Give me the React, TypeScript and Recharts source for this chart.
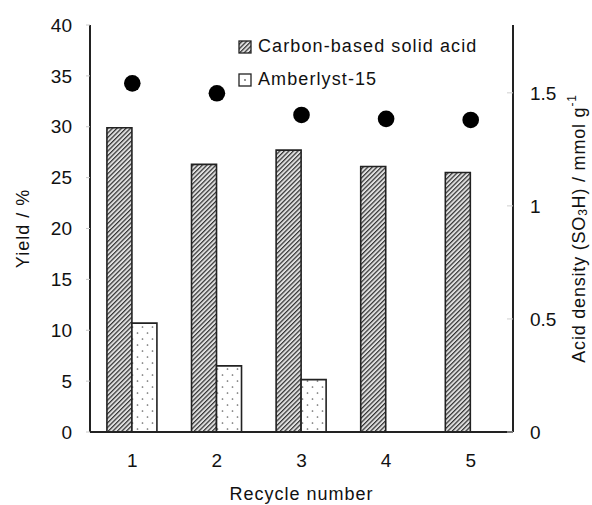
import React from 'react';
import { ComposedChart, Bar, Scatter, XAxis, YAxis, Legend } from 'recharts';

const categories = ['1', '2', '3', '4', '5'];
const carbonYield = [29.9, 26.3, 27.7, 26.1, 25.5];
const amberlystYield: (number | null)[] = [10.7, 6.5, 5.15, null, null];
const acidDensity = [1.542, 1.498, 1.402, 1.385, 1.38];
const yieldTicks = [0, 5, 10, 15, 20, 25, 30, 35, 40];
const densityTicks = [0, 0.5, 1, 1.5];
const seriesNames = ['Carbon-based solid acid', 'Amberlyst-15'];

const data = categories.map((c, i) => ({
  recycle: c,
  carbon: carbonYield[i],
  amberlyst: amberlystYield[i],
  density: acidDensity[i],
}));

const FONT = '"Liberation Sans", Arial, Helvetica, sans-serif';
const TEXT = '#111';
const FRAME = '#222';

const tickStyle = { fontFamily: FONT, fontSize: 19, fill: TEXT };

const RightTick = (props: any) => {
  const { x, y, payload } = props;
  const axisX = x - 17;
  return (
    <g>
      <line x1={axisX - 6} x2={axisX} y1={y} y2={y} stroke="#cfcfcf" strokeWidth={1} />
      <text x={x} y={y} dy="0.355em" textAnchor="start" fontFamily={FONT} fontSize={19} fill={TEXT}>
        {payload.value}
      </text>
    </g>
  );
};

const renderLegend = () => (
  <div style={{ fontFamily: FONT, fontSize: 18, letterSpacing: 1.1, color: TEXT }}>
    {seriesNames.map((n, i) => (
      <div key={n} style={{ display: 'flex', alignItems: 'center', height: 33, whiteSpace: 'nowrap' }}>
        <svg width={14} height={14} style={{ marginRight: 6 }}>
          {i === 0 ? (
            <rect x={1} y={1} width={12} height={12} fill="url(#hatchCarbon)" stroke={FRAME} strokeWidth={1.3} />
          ) : (
            <g>
              <rect x={1} y={1} width={12} height={12} fill="#fff" stroke={FRAME} strokeWidth={1.3} />
              <circle cx={7} cy={7} r={0.9} fill="#666" />
            </g>
          )}
        </svg>
        <span>{n}</span>
      </div>
    ))}
  </div>
);

export default function App() {
  return (
    <div style={{ position: 'absolute', left: 0, top: 0, background: '#fff' }}>
      <ComposedChart
        width={592}
        height={505}
        data={data}
        margin={{ top: 25, right: 0, bottom: 0, left: 0 }}
        barCategoryGap="20%"
        barGap={0}
      >
        <defs>
          <pattern id="hatchCarbon" patternUnits="userSpaceOnUse" width={3.2} height={3.2} patternTransform="rotate(45)">
            <rect x={0} y={0} width={3.2} height={3.2} fill="#e0e0e0" />
            <line x1={0.6} y1={0} x2={0.6} y2={3.2} stroke="#333" strokeWidth={1.25} />
          </pattern>
          <pattern id="dotsAmber" patternUnits="userSpaceOnUse" width={10} height={12}>
            <rect x={0} y={0} width={10} height={12} fill="#fff" />
            <circle cx={2.5} cy={3} r={0.85} fill="#6a6a6a" />
            <circle cx={7.5} cy={9} r={0.85} fill="#6a6a6a" />
          </pattern>
        </defs>
        <XAxis
          xAxisId="top"
          orientation="top"
          dataKey="recycle"
          height={0}
          tick={false}
          tickLine={false}
          axisLine={{ stroke: FRAME, strokeWidth: 2 }}
        />
        <XAxis
          xAxisId="bottom"
          dataKey="recycle"
          height={73}
          tickLine={false}
          tickSize={0}
          tickMargin={22}
          tick={tickStyle}
          axisLine={{ stroke: FRAME, strokeWidth: 2 }}
          label={(p: any) => {
            const vb = p.viewBox;
            return (
              <text
                x={vb.x + vb.width / 2}
                y={494}
                textAnchor="middle"
                dominantBaseline="central"
                fontFamily={FONT}
                fontSize={18}
                letterSpacing={1}
                fill={TEXT}
              >
                Recycle number
              </text>
            );
          }}
        />
        <YAxis
          yAxisId="left"
          width={90}
          domain={[0, 40]}
          ticks={yieldTicks}
          interval={0}
          tickSize={4}
          tickMargin={14}
          tick={tickStyle}
          tickLine={{ stroke: '#c8c8c8' }}
          axisLine={{ stroke: FRAME, strokeWidth: 2 }}
          label={(p: any) => {
            const vb = p.viewBox;
            const cy = vb.y + vb.height / 2;
            return (
              <text
                x={23}
                y={cy}
                transform={`rotate(-90, 23, ${cy})`}
                textAnchor="middle"
                dominantBaseline="central"
                fontFamily={FONT}
                fontSize={18}
                letterSpacing={1}
                fill={TEXT}
              >
                Yield / %
              </text>
            );
          }}
        />
        <YAxis
          yAxisId="right"
          orientation="right"
          width={79}
          domain={[0, 1.8]}
          ticks={densityTicks}
          interval={0}
          tickSize={0}
          tickMargin={17}
          tickLine={false}
          tick={<RightTick />}
          axisLine={{ stroke: FRAME, strokeWidth: 2 }}
          label={(p: any) => {
            const vb = p.viewBox;
            const cy = vb.y + vb.height / 2;
            const cx = 579;
            return (
              <text
                x={cx}
                y={cy}
                transform={`rotate(-90, ${cx}, ${cy})`}
                textAnchor="middle"
                dominantBaseline="central"
                fontFamily={FONT}
                fontSize={18}
                letterSpacing={0.8}
                fill={TEXT}
              >
                Acid density (SO
                <tspan fontSize={12} dy={4}>3</tspan>
                <tspan dy={-4}>H) / mmol g</tspan>
                <tspan fontSize={12} dy={-7}>-1</tspan>
              </text>
            );
          }}
        />
        <Legend
          layout="vertical"
          align="center"
          verticalAlign="middle"
          content={renderLegend}
          wrapperStyle={{ left: 238, top: 30, width: 'auto', height: 'auto' }}
        />
        <Bar
          xAxisId="bottom"
          yAxisId="left"
          dataKey="carbon"
          name={seriesNames[0]}
          fill="url(#hatchCarbon)"
          stroke={FRAME}
          strokeWidth={1.6}
          isAnimationActive={false}
        />
        <Bar
          xAxisId="bottom"
          yAxisId="left"
          dataKey="amberlyst"
          name={seriesNames[1]}
          fill="url(#dotsAmber)"
          stroke={FRAME}
          strokeWidth={1.6}
          isAnimationActive={false}
        />
        <Scatter
          xAxisId="bottom"
          yAxisId="right"
          dataKey="density"
          legendType="none"
          isAnimationActive={false}
          shape={(p: any) => <circle cx={p.cx} cy={p.cy} r={8.3} fill="#000" />}
        />
      </ComposedChart>
    </div>
  );
}
